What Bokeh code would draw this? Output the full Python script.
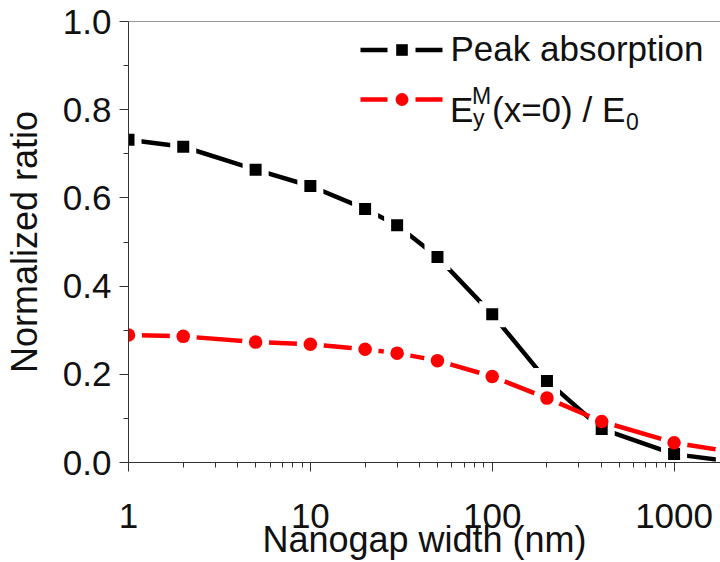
from bokeh.plotting import figure
from bokeh.models import (Legend, LegendItem, Label, Span, FixedTicker,
                          NumeralTickFormatter, ColumnDataSource)
from bokeh.embed import file_html
from bokeh.resources import INLINE

# ---- data ----
gap_nm = [1, 2, 5, 10, 20, 30, 50, 100, 200, 400, 1000, 2000]
peak_absorption = [0.732, 0.716, 0.664, 0.627, 0.575, 0.538, 0.466, 0.336, 0.185, 0.076, 0.019, 0.003]
field_ratio = [0.289, 0.286, 0.273, 0.268, 0.257, 0.248, 0.231, 0.195, 0.146, 0.093, 0.045, 0.025]

x_major_ticks = [1, 10, 100, 1000]
x_minor_ticks = [m * d for d in (1, 10, 100, 1000) for m in range(2, 10)]
y_major_ticks = [0.0, 0.2, 0.4, 0.6, 0.8, 1.0]
y_minor_ticks = [0.1, 0.3, 0.5, 0.7, 0.9]

x_label = "Nanogap width (nm)"
y_label = "Normalized ratio"
legend_1 = "Peak absorption"

FONT = "Liberation Sans"
BLACK = "#000000"
RED = "#FF0000"

src = ColumnDataSource(dict(x=gap_nm, a=peak_absorption, e=field_ratio))

p = figure(width=720, height=562, x_axis_type="log", x_range=(1, 1800), y_range=(0, 1.0),
           output_backend="svg", toolbar_location=None,
           min_border_left=128, min_border_right=0, min_border_top=21, min_border_bottom=100)
p.outline_line_color = None
p.grid.visible = False
p.background_fill_color = "white"
p.border_fill_color = "white"

# top frame line
p.add_layout(Span(location=1.0, dimension="width", line_color="#333333", line_width=1))

# lines with Origin-style gaps around symbols (white halos)
p.line("x", "a", source=src, line_color=BLACK, line_width=4.5)
p.scatter("x", "a", source=src, marker="square", size=26, fill_color="white", line_color=None)
p.line("x", "e", source=src, line_color=RED, line_width=4.5)
p.scatter("x", "e", source=src, marker="circle", size=27, fill_color="white", line_color=None)
sq = p.scatter("x", "a", source=src, marker="square", size=12, fill_color=BLACK, line_color=None)
ci = p.scatter("x", "e", source=src, marker="circle", size=13.5, fill_color=RED, line_color=None)

# legend-only dashed lines (line - gap - line)
lg_a = p.line("x", "a", source=src, line_color=BLACK, line_width=4.5, line_dash="27 28", visible=False)
lg_e = p.line("x", "e", source=src, line_color=RED, line_width=4.5, line_dash="27 28", visible=False)

# axes
for ax in (p.xaxis[0], p.yaxis[0]):
    ax.axis_line_color = "#333333"
    ax.axis_line_width = 1
    ax.major_tick_line_color = "#333333"
    ax.minor_tick_line_color = "#333333"
    ax.major_tick_in = 0
    ax.minor_tick_in = 0
    ax.major_label_text_font = FONT
    ax.major_label_text_font_size = "35px"
    ax.major_label_text_color = "#111111"
    ax.axis_label_text_font = FONT
    ax.axis_label_text_font_size = "36px"
    ax.axis_label_text_font_style = "normal"
    ax.axis_label_text_color = "#111111"

p.xaxis.ticker = FixedTicker(ticks=x_major_ticks, minor_ticks=x_minor_ticks)
p.xaxis.formatter = NumeralTickFormatter(format="0")
p.xaxis.major_tick_out = 9
p.xaxis.minor_tick_out = 5
p.xaxis.major_label_standoff = 32
p.xaxis.axis_label = x_label
p.xaxis.axis_label_standoff = -12

p.yaxis.ticker = FixedTicker(ticks=y_major_ticks, minor_ticks=y_minor_ticks)
p.yaxis.formatter = NumeralTickFormatter(format="0.0")
p.yaxis.major_tick_out = 9
p.yaxis.minor_tick_out = 5
p.yaxis.major_label_standoff = 8
p.yaxis.axis_label = y_label
p.yaxis.axis_label_standoff = 15

# legends
def make_legend(label, renderers, gh, loc):
    lg = Legend(items=[LegendItem(label=label, renderers=renderers)],
                location=loc, padding=0, margin=0, spacing=0,
                glyph_width=83, glyph_height=gh, label_standoff=8,
                label_text_font=FONT, label_text_font_size="35px", label_text_color="#111111",
                border_line_color=None, background_fill_alpha=0)
    p.add_layout(lg)
    return lg

make_legend(legend_1, [lg_a, sq], 29, (231.5, 393))
make_legend(" ", [lg_e, ci], 32, (231.5, 347))

# second legend entry text: E_y^M(x=0) / E_0
fl, fb = 128.5, 461.7
def lab(text, px, py, size):
    p.add_layout(Label(x=px - fl, y=fb - py, x_units="screen", y_units="screen", text=text,
                       text_font=FONT, text_font_size=size, text_color="#111111",
                       text_baseline="alphabetic", text_align="left"))

lab("E", 450, 109, "35px")
lab("M", 472, 95, "23px")
lab("y", 473, 117, "23px")
lab("(x=0) / E", 492, 109, "35px")
lab("0", 626, 121, "23px")

open("out.html", "w").write(file_html(p, INLINE))
